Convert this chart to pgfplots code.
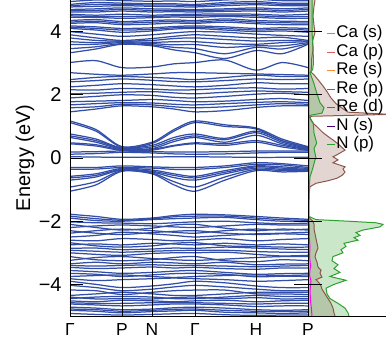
\documentclass[border=0pt]{standalone}
\usepackage{fontspec}
\setmainfont{Liberation Sans}
\usepackage{pgfplots}
\pgfplotsset{compat=1.18}
\definecolor{bandblue}{RGB}{50,78,168}
\definecolor{cCas}{RGB}{95,158,210}
\definecolor{cCap}{RGB}{225,95,95}
\definecolor{cRes}{RGB}{255,140,40}
\definecolor{cRep}{RGB}{255,0,255}
\definecolor{cRed}{RGB}{140,86,75}
\definecolor{cNs}{RGB}{75,0,130}
\definecolor{cNp}{RGB}{44,160,44}
\pgfplotsset{bnd/.style={bandblue, line width=1.25pt, smooth}}
% band: Gamma, mid, P, N, mid, mid, H, mid
\newcommand\band[8]{\addplot[bnd] coordinates {(0,#1)(26,#2)(52,#3)(82,#4)(104,#5)(125,#1)(155,#6)(186,#7)(212,#8)(238,#3)};}
\begin{document}
\begin{tikzpicture}
\path[use as bounding box] (-70bp,-27bp) rectangle (316bp,316bp);
\begin{axis}[
  scale only axis, width=238bp, height=316bp,
  xmin=0, xmax=238, ymin=-5, ymax=5,
  xtick={0,52,82,125,186,238}, xticklabels={Γ,P,N,Γ,H,P},
  ytick={-4,-2,0,2,4}, yticklabels={−4,−2,0,2,4},
  xmajorgrids, major grid style={black, line width=1pt},
  major x tick style={draw=none},
  ytick pos=both, tick align=inside, major tick length=13bp,
  tick style={black, line width=1pt},
  axis on top, axis line style={line width=1pt},
  ylabel={Energy (eV)},
  ylabel style={at={(axis description cs:-0.189,0.5)}, anchor=center, font=\fontsize{20}{24}\selectfont},
  yticklabel style={font=\fontsize{20}{22}\selectfont, xshift=-5bp},
  xticklabel style={font=\fontsize{17.5}{20}\selectfont, yshift=-4bp},
]
% valence
\band{-1.78}{-1.85}{-1.94}{-1.90}{-1.82}{-1.80}{-1.85}{-1.90}
\band{-1.84}{-1.92}{-1.97}{-1.93}{-1.86}{-1.84}{-1.90}{-1.95}
\band{-1.90}{-1.98}{-2.00}{-1.95}{-1.92}{-1.88}{-1.95}{-2.00}
\band{-2.02}{-2.05}{-2.06}{-2.08}{-2.05}{-2.00}{-2.05}{-2.08}
\band{-2.10}{-2.20}{-2.28}{-2.22}{-2.12}{-2.22}{-2.30}{-2.25}
\band{-2.20}{-2.15}{-2.12}{-2.15}{-2.18}{-2.15}{-2.10}{-2.12}
\band{-2.30}{-2.38}{-2.42}{-2.36}{-2.32}{-2.38}{-2.42}{-2.40}
\band{-2.38}{-2.30}{-2.25}{-2.30}{-2.35}{-2.30}{-2.25}{-2.28}
\band{-2.50}{-2.45}{-2.35}{-2.40}{-2.45}{-2.45}{-2.40}{-2.38}
\band{-2.60}{-2.62}{-2.55}{-2.58}{-2.62}{-2.55}{-2.62}{-2.58}
\band{-2.68}{-2.78}{-2.82}{-2.78}{-2.70}{-2.78}{-2.80}{-2.82}
\band{-2.75}{-2.72}{-2.75}{-2.70}{-2.72}{-2.70}{-2.75}{-2.72}
\band{-2.86}{-2.85}{-2.90}{-2.88}{-2.85}{-2.82}{-2.85}{-2.88}
\band{-2.92}{-2.95}{-2.98}{-2.95}{-2.93}{-2.92}{-2.96}{-2.98}
\band{-3.00}{-3.05}{-3.08}{-3.02}{-3.00}{-2.98}{-3.05}{-3.10}
\band{-3.12}{-3.22}{-3.25}{-3.22}{-3.15}{-3.25}{-3.28}{-3.22}
\band{-3.24}{-3.15}{-3.12}{-3.18}{-3.22}{-3.20}{-3.15}{-3.12}
\band{-3.35}{-3.30}{-3.35}{-3.30}{-3.32}{-3.30}{-3.38}{-3.36}
\band{-3.40}{-3.42}{-3.40}{-3.38}{-3.40}{-3.42}{-3.44}{-3.42}
\band{-3.46}{-3.50}{-3.48}{-3.45}{-3.48}{-3.50}{-3.52}{-3.48}
\band{-3.56}{-3.60}{-3.65}{-3.62}{-3.58}{-3.62}{-3.68}{-3.66}
\band{-3.65}{-3.68}{-3.75}{-3.70}{-3.66}{-3.68}{-3.76}{-3.74}
\band{-3.75}{-3.72}{-3.70}{-3.75}{-3.78}{-3.72}{-3.70}{-3.72}
\band{-3.82}{-3.88}{-3.85}{-3.82}{-3.80}{-3.85}{-3.90}{-3.88}
\band{-3.90}{-4.00}{-4.10}{-4.05}{-3.98}{-3.95}{-4.05}{-4.10}
\band{-4.03}{-4.10}{-4.20}{-4.15}{-4.08}{-4.08}{-4.15}{-4.20}
\band{-4.18}{-4.20}{-4.32}{-4.25}{-4.20}{-4.18}{-4.30}{-4.30}
\band{-4.35}{-4.30}{-4.25}{-4.30}{-4.35}{-4.30}{-4.25}{-4.25}
\band{-4.40}{-4.46}{-4.45}{-4.46}{-4.42}{-4.45}{-4.42}{-4.46}
\band{-4.45}{-4.40}{-4.38}{-4.40}{-4.45}{-4.40}{-4.35}{-4.38}
\band{-4.52}{-4.55}{-4.50}{-4.52}{-4.55}{-4.50}{-4.55}{-4.52}
\band{-4.58}{-4.60}{-4.60}{-4.58}{-4.58}{-4.60}{-4.62}{-4.60}
\band{-4.62}{-4.65}{-4.68}{-4.65}{-4.62}{-4.65}{-4.70}{-4.68}
\band{-4.72}{-4.75}{-4.80}{-4.78}{-4.74}{-4.75}{-4.80}{-4.82}
\band{-4.78}{-4.80}{-4.85}{-4.82}{-4.79}{-4.82}{-4.85}{-4.86}
\band{-4.82}{-4.85}{-4.90}{-4.86}{-4.84}{-4.88}{-4.90}{-4.92}
\band{-4.92}{-4.95}{-4.97}{-4.95}{-4.93}{-4.96}{-4.98}{-4.97}
% group near -1..0
\band{-0.30}{-0.30}{-0.25}{-0.28}{-0.30}{-0.25}{-0.15}{-0.18}
\band{-0.36}{-0.35}{-0.30}{-0.32}{-0.36}{-0.30}{-0.20}{-0.22}
\band{-0.58}{-0.50}{-0.33}{-0.38}{-0.50}{-0.40}{-0.25}{-0.28}
\band{-0.63}{-0.55}{-0.36}{-0.42}{-0.55}{-0.45}{-0.28}{-0.32}
\band{-0.70}{-0.60}{-0.38}{-0.45}{-0.62}{-0.50}{-0.32}{-0.36}
\band{-0.92}{-0.75}{-0.40}{-0.48}{-0.75}{-0.60}{-0.36}{-0.40}
\band{-1.05}{-0.85}{-0.42}{-0.50}{-0.85}{-0.70}{-0.40}{-0.44}
% group 0..1.2
\band{1.17}{0.90}{0.36}{0.50}{0.90}{1.05}{0.95}{0.60}
\band{1.12}{0.85}{0.34}{0.46}{0.85}{1.00}{0.92}{0.55}
\band{0.76}{0.60}{0.32}{0.40}{0.65}{0.62}{0.85}{0.55}
\band{0.70}{0.55}{0.30}{0.35}{0.58}{0.58}{0.80}{0.50}
\band{0.65}{0.50}{0.28}{0.30}{0.52}{0.50}{0.72}{0.45}
\band{0.48}{0.42}{0.26}{0.28}{0.40}{0.45}{0.55}{0.40}
\band{0.45}{0.38}{0.24}{0.25}{0.38}{0.40}{0.50}{0.35}
\band{0.19}{0.20}{0.22}{0.20}{0.19}{0.20}{0.22}{0.22}
\band{0.12}{0.14}{0.18}{0.16}{0.13}{0.13}{0.16}{0.18}
\band{0.04}{0.03}{0.02}{0.03}{0.04}{0.03}{0.02}{0.02}
% group 1.5..2.7
\band{1.46}{1.55}{1.65}{1.62}{1.55}{1.50}{1.60}{1.65}
\band{1.59}{1.62}{1.70}{1.68}{1.62}{1.62}{1.68}{1.72}
\band{1.68}{1.72}{1.75}{1.74}{1.70}{1.72}{1.76}{1.78}
\band{1.78}{1.80}{1.82}{1.85}{1.82}{1.80}{1.85}{1.88}
\band{1.90}{1.95}{2.00}{1.98}{1.92}{1.95}{2.02}{2.05}
\band{2.03}{2.05}{2.08}{2.10}{2.06}{2.08}{2.12}{2.10}
\band{2.16}{2.15}{2.20}{2.18}{2.15}{2.20}{2.22}{2.18}
\band{2.25}{2.30}{2.35}{2.32}{2.28}{2.30}{2.38}{2.35}
\band{2.41}{2.45}{2.50}{2.46}{2.42}{2.45}{2.50}{2.48}
\band{2.48}{2.55}{2.58}{2.55}{2.52}{2.55}{2.62}{2.58}
\band{2.70}{2.65}{2.62}{2.66}{2.70}{2.68}{2.66}{2.64}
\band{3.02}{3.08}{2.86}{2.88}{2.98}{3.10}{2.78}{3.02}
% group 3.3..4
\band{3.33}{3.45}{3.60}{3.55}{3.42}{3.15}{3.40}{3.30}
\band{3.46}{3.52}{3.62}{3.58}{3.50}{3.30}{3.50}{3.45}
\band{3.59}{3.60}{3.65}{3.62}{3.58}{3.50}{3.55}{3.55}
\band{3.68}{3.65}{3.68}{3.66}{3.68}{3.62}{3.60}{3.65}
\band{3.80}{3.72}{3.70}{3.72}{3.78}{3.75}{3.70}{3.72}
\band{3.90}{3.80}{3.72}{3.78}{3.85}{3.85}{3.80}{3.82}
\band{4.00}{3.92}{3.85}{3.90}{3.96}{3.98}{3.92}{3.88}
% top
\band{4.10}{4.05}{3.98}{4.02}{4.08}{4.05}{4.00}{4.02}
\band{4.14}{4.10}{4.05}{4.07}{4.12}{4.10}{4.05}{4.07}
\band{4.18}{4.15}{4.10}{4.12}{4.16}{4.15}{4.10}{4.12}
\band{4.26}{4.28}{4.22}{4.24}{4.27}{4.30}{4.25}{4.22}
\band{4.30}{4.33}{4.27}{4.30}{4.32}{4.35}{4.30}{4.28}
\band{4.35}{4.38}{4.32}{4.35}{4.37}{4.40}{4.35}{4.33}
\band{4.45}{4.45}{4.42}{4.44}{4.46}{4.48}{4.45}{4.42}
\band{4.50}{4.48}{4.48}{4.48}{4.50}{4.52}{4.50}{4.47}
\band{4.55}{4.52}{4.55}{4.52}{4.54}{4.56}{4.55}{4.52}
\band{4.62}{4.62}{4.65}{4.62}{4.63}{4.64}{4.65}{4.62}
\band{4.66}{4.67}{4.70}{4.67}{4.67}{4.68}{4.70}{4.67}
\band{4.70}{4.72}{4.75}{4.72}{4.71}{4.72}{4.75}{4.72}
\band{4.78}{4.80}{4.82}{4.80}{4.79}{4.82}{4.85}{4.82}
\band{4.82}{4.86}{4.86}{4.84}{4.84}{4.87}{4.90}{4.86}
\band{4.86}{4.92}{4.90}{4.88}{4.88}{4.92}{4.95}{4.90}
\band{4.95}{5.00}{4.98}{4.96}{4.97}{5.00}{5.02}{4.98}
\end{axis}
\begin{axis}[
  at={(238bp,0)}, scale only axis, width=78bp, height=316bp,
  xmin=0, xmax=78, ymin=-5, ymax=5,
  axis x line*=bottom, axis y line*=left,
  xtick=\empty, ytick={-4,-2,0,2,4}, yticklabels={},
  tick align=center, major tick length=28bp,
  tick style={black, line width=1pt},
  axis on top, axis line style={line width=1pt},
  legend cell align=left,
  legend image code/.code={\draw[#1, line width=1.2pt] (0bp,0bp) -- (8bp,0bp);},
  legend style={draw=none, fill=none, at={(axis description cs:0.2,0.928)}, anchor=north west,
    font=\fontsize{17}{18}\selectfont,
    nodes={inner sep=0.5bp, text height=12.5bp, text depth=4bp}, row sep=1bp},
]
% fills
\addplot[draw=none, fill=cRed, fill opacity=0.25, forget plot] coordinates {
(0,-5) (27,-5.0) (26,-4.9) (25,-4.75) (23,-4.6) (20,-4.45) (17,-4.3) (14,-4.15) (13,-4.05) (11,-3.95) (8,-3.85) (14,-3.77) (12,-3.65) (13,-3.55) (10,-3.45) (9,-3.3) (7,-3.13) (8,-3.0) (10,-2.85) (9,-2.7) (8,-2.55) (7,-2.4) (6,-2.25) (6,-2.1) (5,-2.0) (2,-1.92) (1,-1.85) (0.8,-1.5) (1.2,-1.1) (2,-0.91) (8,-0.8) (20,-0.72) (29,-0.64) (34,-0.55) (37,-0.45) (35,-0.35) (37,-0.28) (25,-0.15) (30,-0.06) (25,0.04) (30,0.12) (37,0.25) (33,0.36) (30,0.45) (25,0.57) (20,0.68) (14,0.83) (9,0.99) (5,1.1) (2,1.25) (3,1.32) (82,1.38) (40,1.45) (34,1.58) (28,1.72) (23,1.9) (19,2.1) (15,2.28) (10,2.48) (6,2.63) (3,2.72) (3.5,2.9) (3.5,3.1) (5,3.43) (4.5,3.7) (7,3.97) (6,4.2) (5,4.5) (6,4.8) (7,5.0) (0,5)};
\addplot[draw=none, fill=cNp, fill opacity=0.25, forget plot] coordinates {
(0,-5) (41,-5.0) (40,-4.9) (37,-4.75) (30,-4.6) (22,-4.45) (19,-4.3) (18,-4.12) (26,-4.0) (38,-3.87) (22,-3.75) (32,-3.62) (26,-3.5) (30,-3.38) (24,-3.25) (25,-3.12) (35,-3.0) (33,-2.9) (38,-2.8) (36,-2.7) (50,-2.6) (46,-2.52) (52,-2.45) (48,-2.36) (55,-2.28) (72,-2.18) (75,-2.1) (68,-2.05) (40,-2.0) (8,-1.95) (1,-1.85) (0.3,-1.8) (0.5,-1.5) (1,-1.1) (1.3,-0.9) (2,-0.6) (5,-0.3) (7,-0.06) (8,0.0) (7,0.15) (6,0.3) (8.7,0.47) (6,0.79) (5.3,1.1) (1.3,1.31) (2,1.35) (14,1.42) (16,1.59) (12,1.75) (8.7,2.06) (5.7,2.38) (2,2.7) (4.7,2.8) (5.5,3.0) (5,3.53) (4,3.97) (4,4.5) (4,5.0) (0,5)};
% lines
\addplot[cCas, line width=1pt] coordinates {(0.2,-5) (0.2,5)};
\addlegendentry{Ca (s)}
\addplot[cCap, line width=1pt] coordinates {(0.2,-5) (0.2,5)};
\addlegendentry{Ca (p)}
\addplot[cRes, line width=1pt] coordinates {(0.2,-5) (0.2,5)};
\addlegendentry{Re (s)}
\addplot[cRep, line width=1pt] coordinates {(4,-5.0) (3.5,-4.8) (2.5,-4.5) (2,-4.2) (3,-3.9) (1.5,-3.7) (2.5,-3.4) (1.5,-3.1) (2,-2.8) (1.2,-2.5) (1.5,-2.2) (1,-2.0) (0.8,-1.85) (0.8,5.0)};
\addlegendentry{Re (p)}
\addplot[cRed, line width=1pt] coordinates {
(27,-5.0) (26,-4.9) (25,-4.75) (23,-4.6) (20,-4.45) (17,-4.3) (14,-4.15) (13,-4.05) (11,-3.95) (8,-3.85) (14,-3.77) (12,-3.65) (13,-3.55) (10,-3.45) (9,-3.3) (7,-3.13) (8,-3.0) (10,-2.85) (9,-2.7) (8,-2.55) (7,-2.4) (6,-2.25) (6,-2.1) (5,-2.0) (2,-1.92) (1,-1.85) (0.8,-1.5) (1.2,-1.1) (2,-0.91) (8,-0.8) (20,-0.72) (29,-0.64) (34,-0.55) (37,-0.45) (35,-0.35) (37,-0.28) (25,-0.15) (30,-0.06) (25,0.04) (30,0.12) (37,0.25) (33,0.36) (30,0.45) (25,0.57) (20,0.68) (14,0.83) (9,0.99) (5,1.1) (2,1.25) (3,1.32) (82,1.38) (40,1.45) (34,1.58) (28,1.72) (23,1.9) (19,2.1) (15,2.28) (10,2.48) (6,2.63) (3,2.72) (3.5,2.9) (3.5,3.1) (5,3.43) (4.5,3.7) (7,3.97) (6,4.2) (5,4.5) (6,4.8) (7,5.0)};
\addlegendentry{Re (d)}
\addplot[cNs, line width=1pt] coordinates {(0.4,-5) (0.4,5)};
\addlegendentry{N (s)}
\addplot[cNp, line width=1pt] coordinates {
(41,-5.0) (40,-4.9) (37,-4.75) (30,-4.6) (22,-4.45) (19,-4.3) (18,-4.12) (26,-4.0) (38,-3.87) (22,-3.75) (32,-3.62) (26,-3.5) (30,-3.38) (24,-3.25) (25,-3.12) (35,-3.0) (33,-2.9) (38,-2.8) (36,-2.7) (50,-2.6) (46,-2.52) (52,-2.45) (48,-2.36) (55,-2.28) (72,-2.18) (75,-2.1) (68,-2.05) (40,-2.0) (8,-1.95) (1,-1.85) (0.3,-1.8) (0.5,-1.5) (1,-1.1) (1.3,-0.9) (2,-0.6) (5,-0.3) (7,-0.06) (8,0.0) (7,0.15) (6,0.3) (8.7,0.47) (6,0.79) (5.3,1.1) (1.3,1.31) (2,1.35) (14,1.42) (16,1.59) (12,1.75) (8.7,2.06) (5.7,2.38) (2,2.7) (4.7,2.8) (5.5,3.0) (5,3.53) (4,3.97) (4,4.5) (4,5.0)};
\addlegendentry{N (p)}
\end{axis}
\end{tikzpicture}
\end{document}
